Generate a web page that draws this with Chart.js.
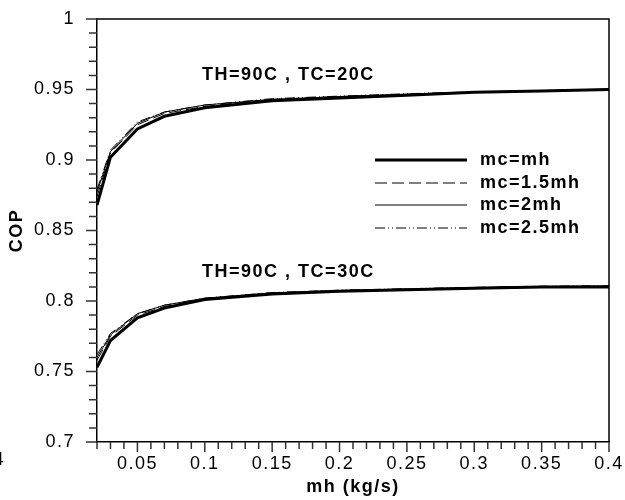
<!DOCTYPE html>
<html>
<head>
<meta charset="utf-8">
<script src="https://cdn.jsdelivr.net/npm/chart.js@4/dist/chart.umd.min.js"></script>
<style>
  html, body { margin: 0; padding: 0; background: #fff; }
</style>
</head>
<body>
<canvas id="copChart" width="625" height="500"></canvas>
<script>
// mass flow of hot stream, kg/s
const mh = [0.02, 0.03, 0.05, 0.07, 0.1, 0.15, 0.2, 0.25, 0.3, 0.35, 0.4];

// TH=90C, TC=20C
const tc20_mc1 = [0.868, 0.902, 0.922, 0.931, 0.937, 0.942, 0.944, 0.946, 0.948, 0.949, 0.950];
const tc20_mc15 = [0.874, 0.905, 0.925, 0.933, 0.938, 0.943, 0.945, 0.9465, 0.948, 0.949, 0.950];
const tc20_mc2 = [0.877, 0.906, 0.926, 0.934, 0.939, 0.943, 0.945, 0.9467, 0.9482, 0.9492, 0.9502];
const tc20_mc25 = [0.879, 0.907, 0.927, 0.934, 0.939, 0.9435, 0.9453, 0.947, 0.9483, 0.9493, 0.9503];

// TH=90C, TC=30C
const tc30_mc1 = [0.753, 0.772, 0.788, 0.795, 0.801, 0.805, 0.807, 0.808, 0.809, 0.810, 0.810];
const tc30_mc15 = [0.758, 0.775, 0.790, 0.796, 0.8015, 0.8055, 0.8073, 0.8083, 0.8093, 0.8102, 0.8105];
const tc30_mc2 = [0.760, 0.776, 0.791, 0.797, 0.802, 0.8058, 0.8075, 0.8085, 0.8095, 0.8103, 0.8107];
const tc30_mc25 = [0.762, 0.777, 0.791, 0.797, 0.802, 0.806, 0.8077, 0.8087, 0.8097, 0.8105, 0.8108];

const seriesLabels = ['mc=mh', 'mc=1.5mh', 'mc=2mh', 'mc=2.5mh'];
const caseLabels = ['TH=90C , TC=20C', 'TH=90C , TC=30C'];
const casePos = [[0.098, 0.960], [0.098, 0.8206]]; // data coords of the annotations

const FONT = '"Liberation Sans", Arial, sans-serif';

const styles = [
    { borderColor: '#000', borderWidth: 3, borderDash: [] },
    { borderColor: '#000', borderWidth: 1, borderDash: [12, 5] },
    { borderColor: '#000', borderWidth: 1, borderDash: [] },
    { borderColor: '#000', borderWidth: 1, borderDash: [10, 3, 1, 3, 1, 3] }
];

function pts(ys) {
    return mh.map((x, i) => ({ x: x, y: ys[i] }));
}

const groups = [
    [tc20_mc1, tc20_mc15, tc20_mc2, tc20_mc25],
    [tc30_mc1, tc30_mc15, tc30_mc2, tc30_mc25]
];

const datasets = [];
groups.forEach(function(g) {
    g.forEach(function(ys, k) {
        datasets.push(Object.assign({
            label: seriesLabels[k],
            data: pts(ys),
            fill: false,
            pointRadius: 0,
            tension: 0
        }, styles[k]));
    });
});

function isMajor(v, step) {
    const r = v / step;
    return Math.abs(r - Math.round(r)) < 1e-6;
}

const decorPlugin = {
    id: 'decor',
    beforeDraw(chart) {
        chart.ctx.letterSpacing = '1.5px';
    },
    afterDraw(chart) {
        const ctx = chart.ctx;
        const a = chart.chartArea;
        const xs = chart.scales.x, ys = chart.scales.y;
        ctx.save();
        ctx.strokeStyle = '#000';
        ctx.lineWidth = 1.5;
        // top and right frame
        ctx.beginPath();
        ctx.moveTo(a.left, a.top);
        ctx.lineTo(a.right, a.top);
        ctx.lineTo(a.right, a.bottom);
        ctx.stroke();

        // tick marks
        ctx.strokeStyle = '#333';
        ctx.lineWidth = 1.5;
        ctx.beginPath();
        xs.ticks.forEach(function(t) {
            const px = xs.getPixelForValue(t.value);
            const len = isMajor(t.value, 0.05) ? 10 : 7;
            ctx.moveTo(px, a.bottom);
            ctx.lineTo(px, a.bottom + len);
        });
        ys.ticks.forEach(function(t) {
            const py = ys.getPixelForValue(t.value);
            const len = isMajor(t.value, 0.05) ? 11 : 8;
            ctx.moveTo(a.left, py);
            ctx.lineTo(a.left - len, py);
        });
        ctx.stroke();

        // case annotations
        ctx.letterSpacing = '1.5px';
        ctx.fillStyle = '#000';
        ctx.font = 'bold 18px ' + FONT;
        ctx.textAlign = 'left';
        ctx.textBaseline = 'middle';
        caseLabels.forEach(function(txt, i) {
            ctx.fillText(txt, xs.getPixelForValue(casePos[i][0]), ys.getPixelForValue(casePos[i][1]));
        });

        // legend
        const lx0 = 375, lx1 = 467, tx = 480;
        const rowY = [160, 183, 205, 228];
        seriesLabels.forEach(function(lbl, k) {
            const ds = chart.data.datasets[k];
            ctx.save();
            ctx.strokeStyle = ds.borderColor;
            ctx.lineWidth = ds.borderWidth;
            ctx.setLineDash(ds.borderDash);
            ctx.beginPath();
            ctx.moveTo(lx0, rowY[k]);
            ctx.lineTo(lx1, rowY[k]);
            ctx.stroke();
            ctx.restore();
            ctx.fillText(lbl, tx, rowY[k]);
        });

        // clipped label fragment at lower left
        ctx.font = '18px ' + FONT;
        ctx.textAlign = 'right';
        ctx.fillText('4', 5, 460);
        ctx.restore();
    }
};

const ctx = document.getElementById('copChart').getContext('2d');
new Chart(ctx, {
    type: 'line',
    data: { datasets: datasets },
    options: {
        responsive: false,
        animation: false,
        events: [],
        layout: { padding: { top: 19, right: 16, left: 0, bottom: 0 } },
        plugins: {
            legend: { display: false },
            tooltip: { enabled: false }
        },
        scales: {
            x: {
                type: 'linear',
                min: 0.02,
                max: 0.4,
                afterFit: function(s) {
                    s.height = 58;
                    s.paddingLeft = 0;
                    s.paddingRight = 0;
                },
                grid: { display: false },
                border: { display: true, color: '#000', width: 1.5 },
                ticks: {
                    stepSize: 0.01,
                    autoSkip: false,
                    maxRotation: 0,
                    padding: 3,
                    color: '#000',
                    font: { family: FONT, size: 18 },
                    callback: function(v) {
                        return isMajor(v, 0.05) ? String(+v.toFixed(2)) : '';
                    }
                },
                title: {
                    display: true,
                    text: 'mh (kg/s)',
                    color: '#000',
                    font: { family: FONT, size: 18, weight: 'bold' },
                    padding: { top: 0, bottom: 2 }
                }
            },
            y: {
                min: 0.7,
                max: 1,
                afterFit: function(s) {
                    s.width = 97;
                    s.paddingTop = 0;
                    s.paddingBottom = 0;
                },
                grid: { display: false },
                border: { display: true, color: '#000', width: 1.5 },
                ticks: {
                    stepSize: 0.01,
                    autoSkip: false,
                    padding: 14,
                    color: '#000',
                    font: { family: FONT, size: 18 },
                    callback: function(v) {
                        return isMajor(v, 0.05) ? String(+v.toFixed(2)) : '';
                    }
                },
                title: {
                    display: true,
                    text: 'COP',
                    color: '#000',
                    font: { family: FONT, size: 18, weight: 'bold' },
                    padding: { top: 6, bottom: 0 }
                }
            }
        }
    },
    plugins: [decorPlugin]
});
</script>
</body>
</html>
